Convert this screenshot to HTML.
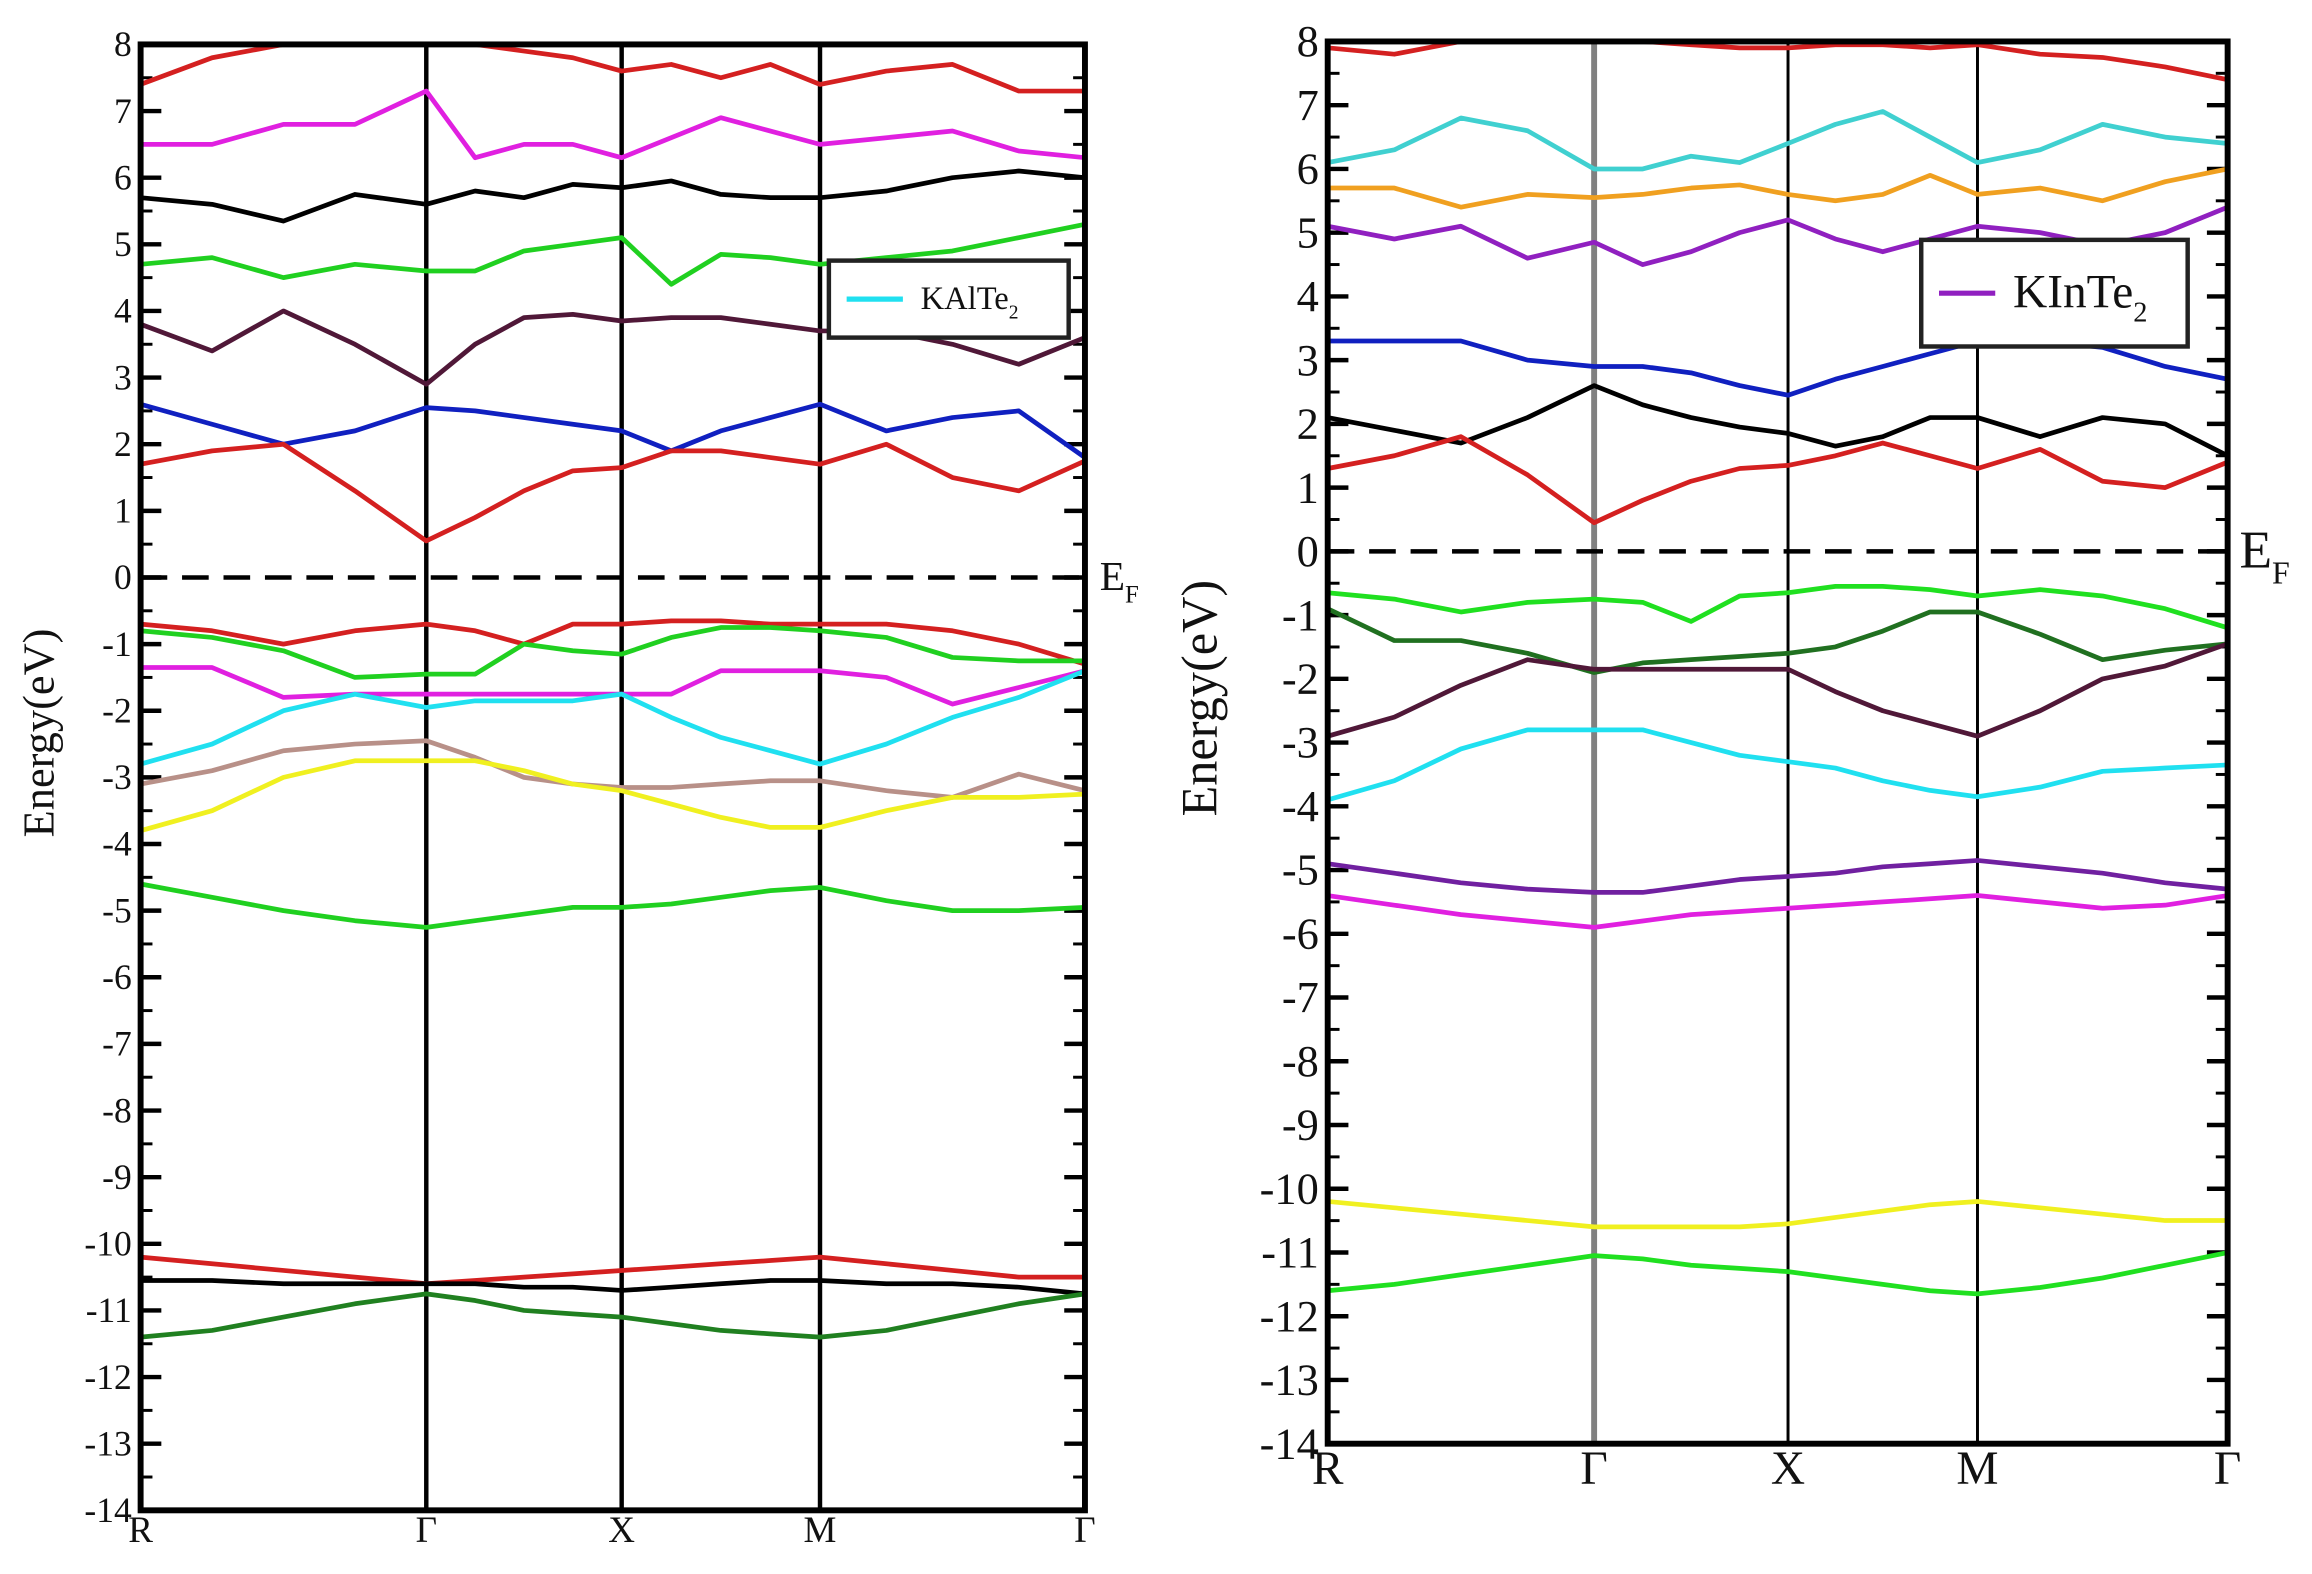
<!DOCTYPE html>
<html><head><meta charset="utf-8"><style>
html,body{margin:0;padding:0;background:#fff;}
svg{display:block;}
text{font-family:"Liberation Serif",serif;}
</style></head><body>
<svg id="chart" width="2312" height="1574" viewBox="0 0 1562 1063" preserveAspectRatio="none" xmlns="http://www.w3.org/2000/svg"></svg>
<script>
const kLabels = ["R","Γ","X","M","Γ"];
const kGrid = [0,0.25,0.5,0.75,1,1.25,1.5,1.75,2,2.25,2.5,2.75,3,3.25,3.5,3.75,4];
const yTicks = [8,7,6,5,4,3,2,1,0,-1,-2,-3,-4,-5,-6,-7,-8,-9,-10,-11,-12,-13,-14];

const leftColors = ["#d42020","#e020e0","#000000","#20d020","#501838","#1020c0","#d42020","#d42020","#20d020","#e020e0","#20e0f0","#b89088","#f0f020","#20d020","#d42020","#000000","#208020"];
const leftBands = [
[7.4,7.8,8.0,8.0,8.0,8.0,7.9,7.8,7.6,7.7,7.5,7.7,7.4,7.6,7.7,7.3,7.3],
[6.5,6.5,6.8,6.8,7.3,6.3,6.5,6.5,6.3,6.6,6.9,6.7,6.5,6.6,6.7,6.4,6.3],
[5.7,5.6,5.35,5.75,5.6,5.8,5.7,5.9,5.85,5.95,5.75,5.7,5.7,5.8,6.0,6.1,6.0],
[4.7,4.8,4.5,4.7,4.6,4.6,4.9,5.0,5.1,4.4,4.85,4.8,4.7,4.8,4.9,5.1,5.3],
[3.8,3.4,4.0,3.5,2.9,3.5,3.9,3.95,3.85,3.9,3.9,3.8,3.7,3.7,3.5,3.2,3.6],
[2.6,2.3,2.0,2.2,2.55,2.5,2.4,2.3,2.2,1.9,2.2,2.4,2.6,2.2,2.4,2.5,1.8],
[1.7,1.9,2.0,1.3,0.55,0.9,1.3,1.6,1.65,1.9,1.9,1.8,1.7,2.0,1.5,1.3,1.75],
[-0.7,-0.8,-1.0,-0.8,-0.7,-0.8,-1.0,-0.7,-0.7,-0.65,-0.65,-0.7,-0.7,-0.7,-0.8,-1.0,-1.3],
[-0.8,-0.9,-1.1,-1.5,-1.45,-1.45,-1.0,-1.1,-1.15,-0.9,-0.75,-0.75,-0.8,-0.9,-1.2,-1.25,-1.25],
[-1.35,-1.35,-1.8,-1.75,-1.75,-1.75,-1.75,-1.75,-1.75,-1.75,-1.4,-1.4,-1.4,-1.5,-1.9,-1.65,-1.4],
[-2.8,-2.5,-2.0,-1.75,-1.95,-1.85,-1.85,-1.85,-1.75,-2.1,-2.4,-2.6,-2.8,-2.5,-2.1,-1.8,-1.4],
[-3.1,-2.9,-2.6,-2.5,-2.45,-2.7,-3.0,-3.1,-3.15,-3.15,-3.1,-3.05,-3.05,-3.2,-3.3,-2.95,-3.2],
[-3.8,-3.5,-3.0,-2.75,-2.75,-2.75,-2.9,-3.1,-3.2,-3.4,-3.6,-3.75,-3.75,-3.5,-3.3,-3.3,-3.25],
[-4.6,-4.8,-5.0,-5.15,-5.25,-5.15,-5.05,-4.95,-4.95,-4.9,-4.8,-4.7,-4.65,-4.85,-5.0,-5.0,-4.95],
[-10.2,-10.3,-10.4,-10.5,-10.6,-10.55,-10.5,-10.45,-10.4,-10.35,-10.3,-10.25,-10.2,-10.3,-10.4,-10.5,-10.5],
[-10.55,-10.55,-10.6,-10.6,-10.6,-10.6,-10.65,-10.65,-10.7,-10.65,-10.6,-10.55,-10.55,-10.6,-10.6,-10.65,-10.75],
[-11.4,-11.3,-11.1,-10.9,-10.75,-10.85,-11.0,-11.05,-11.1,-11.2,-11.3,-11.35,-11.4,-11.3,-11.1,-10.9,-10.75]
];

const rightColors = ["#d42020","#40d0d0","#f0a020","#9020c0","#1020c0","#000000","#d42020","#20e020","#207020","#501838","#20e0f0","#7020a0","#e020e0","#f0f020","#20e020"];
const rightBands = [
[7.9,7.8,8.0,8.0,8.0,8.0,7.95,7.9,7.9,7.95,7.95,7.9,7.95,7.8,7.75,7.6,7.4],
[6.1,6.3,6.8,6.6,6.0,6.0,6.2,6.1,6.4,6.7,6.9,6.5,6.1,6.3,6.7,6.5,6.4],
[5.7,5.7,5.4,5.6,5.55,5.6,5.7,5.75,5.6,5.5,5.6,5.9,5.6,5.7,5.5,5.8,6.0],
[5.1,4.9,5.1,4.6,4.85,4.5,4.7,5.0,5.2,4.9,4.7,4.9,5.1,5.0,4.8,5.0,5.4],
[3.3,3.3,3.3,3.0,2.9,2.9,2.8,2.6,2.45,2.7,2.9,3.1,3.3,3.3,3.2,2.9,2.7],
[2.1,1.9,1.7,2.1,2.6,2.3,2.1,1.95,1.85,1.65,1.8,2.1,2.1,1.8,2.1,2.0,1.5],
[1.3,1.5,1.8,1.2,0.45,0.8,1.1,1.3,1.35,1.5,1.7,1.5,1.3,1.6,1.1,1.0,1.4],
[-0.65,-0.75,-0.95,-0.8,-0.75,-0.8,-1.1,-0.7,-0.65,-0.55,-0.55,-0.6,-0.7,-0.6,-0.7,-0.9,-1.2],
[-0.9,-1.4,-1.4,-1.6,-1.9,-1.75,-1.7,-1.65,-1.6,-1.5,-1.25,-0.95,-0.95,-1.3,-1.7,-1.55,-1.45],
[-2.9,-2.6,-2.1,-1.7,-1.85,-1.85,-1.85,-1.85,-1.85,-2.2,-2.5,-2.7,-2.9,-2.5,-2.0,-1.8,-1.45],
[-3.9,-3.6,-3.1,-2.8,-2.8,-2.8,-3.0,-3.2,-3.3,-3.4,-3.6,-3.75,-3.85,-3.7,-3.45,-3.4,-3.35],
[-4.9,-5.05,-5.2,-5.3,-5.35,-5.35,-5.25,-5.15,-5.1,-5.05,-4.95,-4.9,-4.85,-4.95,-5.05,-5.2,-5.3],
[-5.4,-5.55,-5.7,-5.8,-5.9,-5.8,-5.7,-5.65,-5.6,-5.55,-5.5,-5.45,-5.4,-5.5,-5.6,-5.55,-5.4],
[-10.2,-10.3,-10.4,-10.5,-10.6,-10.6,-10.6,-10.6,-10.55,-10.45,-10.35,-10.25,-10.2,-10.3,-10.4,-10.5,-10.5],
[-11.6,-11.5,-11.35,-11.2,-11.05,-11.1,-11.2,-11.25,-11.3,-11.4,-11.5,-11.6,-11.65,-11.55,-11.4,-11.2,-11.0]
];

const NS="http://www.w3.org/2000/svg";
const svg=document.getElementById('chart');
function el(tag,attrs,parent){const e=document.createElementNS(NS,tag);for(const k in attrs)e.setAttribute(k,attrs[k]);(parent||svg).appendChild(e);return e;}

function panel(cfg){
  const g=el('g',{});
  
  
  const xs=cfg.kx;
  const xScale=k=>{const i=Math.min(3,Math.floor(k));return xs[i]+(k-i)*(xs[i+1]-xs[i]);};
  const yScale=e=>cfg.top+(8-e)*(cfg.bottom-cfg.top)/22;
  yTicks.forEach(t=>{
    const y=yScale(t);
    el('line',{x1:xs[0],x2:xs[0]+14,y1:y,y2:y,stroke:'#000','stroke-width':3},g);
    el('line',{x1:xs[4]-14,x2:xs[4],y1:y,y2:y,stroke:'#000','stroke-width':3},g);
    if(t>-14){const ym=yScale(t-0.5);
      el('line',{x1:xs[0],x2:xs[0]+8,y1:ym,y2:ym,stroke:'#000','stroke-width':2},g);
      el('line',{x1:xs[4]-8,x2:xs[4],y1:ym,y2:ym,stroke:'#000','stroke-width':2},g);}
    const tl=el('text',{x:xs[0]-6,y:y+cfg.fs*0.33,'text-anchor':'end','font-size':cfg.fs,fill:'#111'},g);
    tl.textContent=String(t);
    
    
  });
  for(let i=1;i<4;i++){
    const l=el('line',{x1:xs[i],x2:xs[i],y1:cfg.top,y2:cfg.bottom,stroke:(i===1&&cfg.gray)?'#808080':'#000','stroke-width':(i===1&&cfg.gray)?4:cfg.vw},g);
    
    
  }
  cfg.bands.forEach((b,bi)=>{
    const pts=b.map((e,j)=>xScale(kGrid[j]).toFixed(1)+','+Math.max(cfg.top,yScale(e)).toFixed(1)).join(' ');
    const p=el('polyline',{points:pts,fill:'none',stroke:cfg.colors[bi],'stroke-width':3.2,'stroke-linejoin':'round'},g);
    
    
  });
  const f=el('line',{x1:xs[0],x2:xs[4],y1:yScale(0),y2:yScale(0),stroke:'#000','stroke-width':3,'stroke-dasharray':'18,10'},g);
  
  
  const ef=el('text',{x:xs[4]+cfg.efdx,y:yScale(0)+cfg.efs*0.3,'font-size':cfg.efs,fill:'#111'},g);
  ef.innerHTML='E<tspan font-size="'+(cfg.efs*0.6)+'" dy="'+(cfg.efs*0.3)+'">F</tspan>';
  
  
  const fr=el('rect',{x:xs[0],y:cfg.top,width:xs[4]-xs[0],height:cfg.bottom-cfg.top,fill:'none',stroke:'#000','stroke-width':4},g);
  
  
  kLabels.forEach((lab,i)=>{
    const t=el('text',{x:xs[i],y:cfg.bottom+cfg.xfs*0.85,'text-anchor':'middle','font-size':cfg.xfs,fill:'#111'},g);
    t.textContent=lab;
    
    
  });
  const yt=el('text',{x:0,y:0,'text-anchor':'middle','font-size':cfg.yfs,fill:'#111',transform:'translate('+cfg.ytx+','+((cfg.top+cfg.bottom)/2-30)+') rotate(-90)'},g);
  yt.textContent='Energy(eV)';
  
  
  const lg=el('g',{},g);
  
  
  const L=cfg.leg;
  el('rect',{x:L.x,y:L.y,width:L.w,height:L.h,fill:'#fff',stroke:'#222','stroke-width':3},lg);
  el('line',{x1:L.x+12,x2:L.x+50,y1:L.y+L.h/2,y2:L.y+L.h/2,stroke:L.c,'stroke-width':3.5},lg);
  const lt=el('text',{x:L.x+62,y:L.y+L.h/2+L.fs*0.3,'font-size':L.fs,fill:'#111'},lg);
  lt.innerHTML=L.label+'<tspan font-size="'+(L.fs*0.6)+'" dy="'+(L.fs*0.3)+'">2</tspan>';
  
  
}

panel({name:'kalte2-panel',kx:[95,288,420,554,733],top:30,bottom:1020,bands:leftBands,colors:leftColors,fs:24,xfs:25,yfs:30,ytx:36,vw:3,gray:false,efdx:10,efs:28,
  leg:{x:560,y:176,w:162,h:52,c:'#20e0f0',label:'KAlTe',fs:22}});
panel({name:'kinte2-panel',kx:[897,1077,1208,1336,1505],top:28,bottom:975,bands:rightBands,colors:rightColors,fs:30,xfs:32,yfs:34,ytx:822,vw:2,gray:true,efdx:8,efs:36,
  leg:{x:1298,y:162,w:180,h:72,c:'#9020c0',label:'KInTe',fs:32}});
</script>
</body></html>
